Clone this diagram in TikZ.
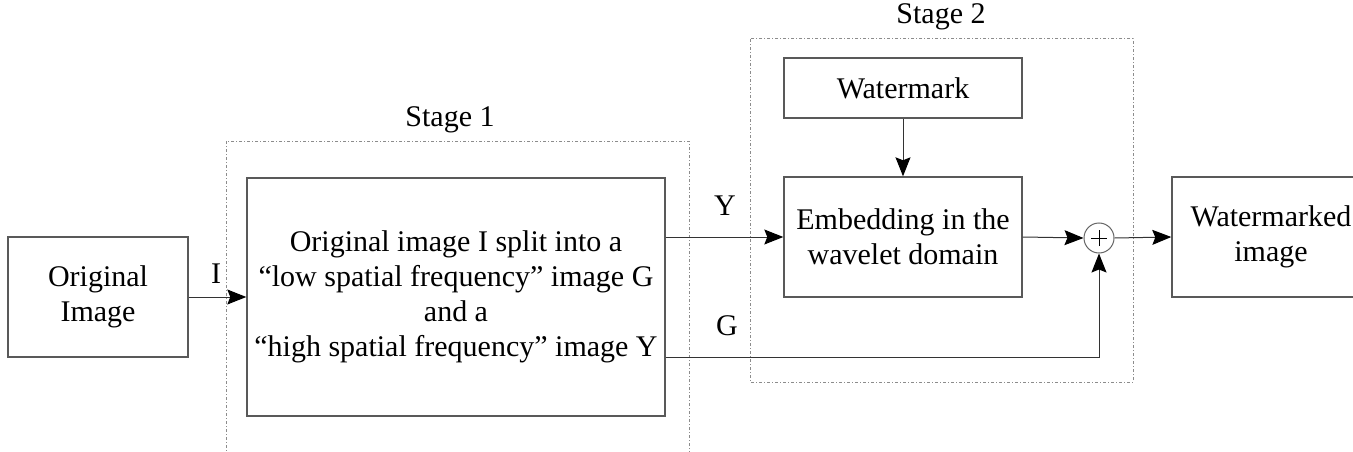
\documentclass[tikz,border=0pt]{standalone}
\usepackage{fontspec}
\setmainfont{Liberation Serif}
\usetikzlibrary{arrows.meta}
\begin{document}
\begin{tikzpicture}[x=1pt,y=-1pt,
  every node/.style={font=\fontsize{30}{35}\selectfont, inner sep=0pt},
  blockbox/.style={draw=black!65, line width=1.4pt, rectangle, align=center},
  stagebox/.style={draw=black!45, line width=1pt,
    dash pattern=on 3pt off 2pt on 1pt off 2pt},
  flow/.style={draw=black!80, line width=1pt,
    -{Stealth[length=19pt,width=15pt,inset=3pt,black]}},
  sumnode/.style={circle, draw=black!60, line width=1pt, minimum size=30pt,
    path picture={
      \draw[black, line width=1pt]
        ([xshift=-8pt]path picture bounding box.center) --
        ([xshift=8pt]path picture bounding box.center);
      \draw[black, line width=1pt]
        ([yshift=-8pt]path picture bounding box.center) --
        ([yshift=8pt]path picture bounding box.center);
    }},
]
\useasboundingbox (0,0) rectangle (1353,452);
\clip (0,0) rectangle (1353,452);

% stage frames
\draw[stagebox] (226,141) rectangle (689,470);
\draw[stagebox] (750,39) rectangle (1133,382);
\node (s1) at (450,120) {Stage 1};
\node (s2) at (941,17) {Stage 2};

% processing blocks
\node[blockbox, minimum width=180pt, minimum height=120pt] (orig) at (98,297)
  {Original\\Image};
\node[blockbox, minimum width=418pt, minimum height=238pt] (split) at (456,297)
  {Original image I split into a\\
   “low spatial frequency” image G\\
   and a\\
   “high spatial frequency” image Y};
\node[blockbox, minimum width=238pt, minimum height=60pt] (wm) at (903,88)
  {Watermark};
\node[blockbox, minimum width=238pt, minimum height=120pt] (emb) at (903,237)
  {Embedding in the\\wavelet domain};
\node[sumnode] (plus) at (1099,238) {};
\node[blockbox, minimum width=198pt, minimum height=120pt] (out) at (1271,237)
  {Watermarked\\image};

% connectors
\coordinate (gturn) at (1099,357);
\draw[flow] (orig.east) -- (split.west);
\node (lI) at (216,274) {I};
\draw[flow] (split.east |- emb.west) -- (emb.west);
\node (lY) at (725,206) {Y};
\draw[flow] (wm.south) -- (emb.north);
\draw[flow] (emb.east) -- (plus.west);
\draw[flow] (plus.east) -- (out.west);
\draw[flow] (split.east |- gturn) -- (gturn) -- (plus.south);
\node (lG) at (727,326) {G};
\end{tikzpicture}
\end{document}
